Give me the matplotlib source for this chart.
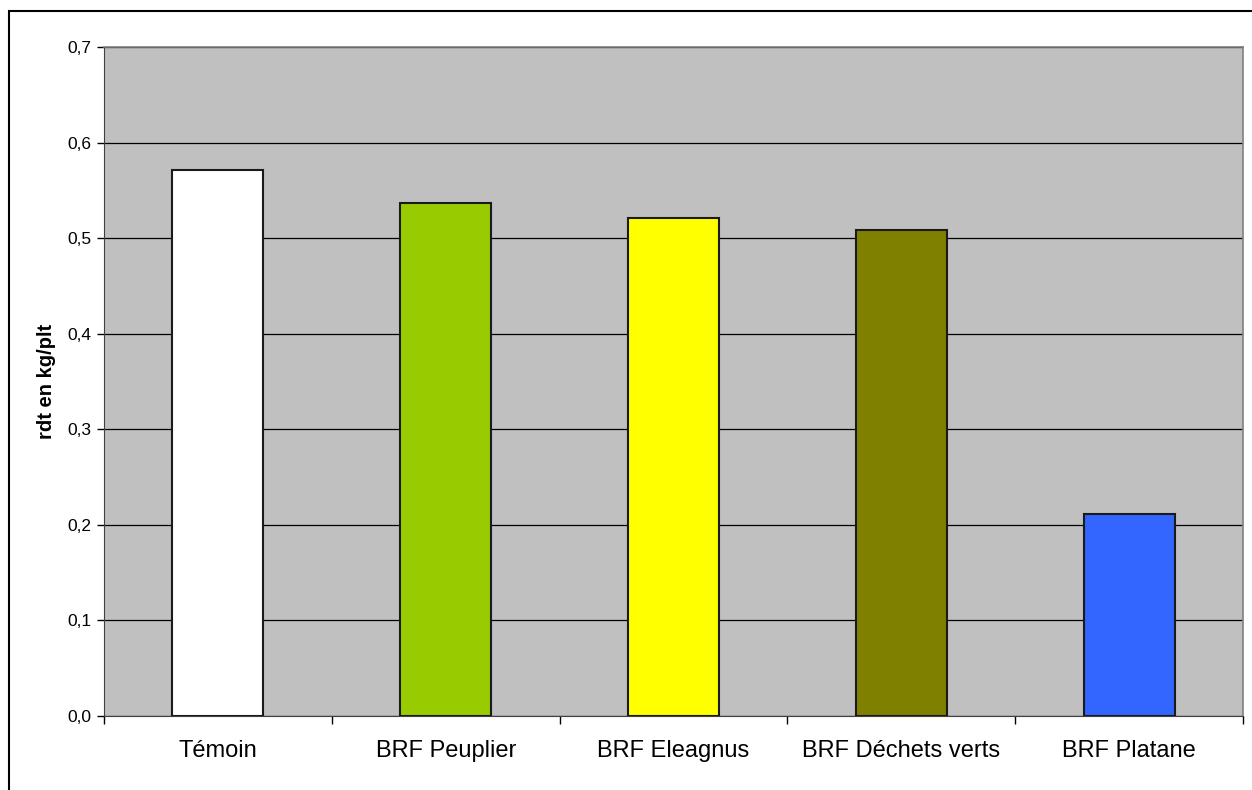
import numpy as np
import matplotlib.pyplot as plt
from matplotlib.patches import Rectangle
from matplotlib.ticker import FuncFormatter

plt.rcParams['font.family'] = ['Liberation Sans', 'DejaVu Sans']

# Rendement par traitement
traitements = ['Témoin', 'BRF Peuplier', 'BRF Eleagnus', 'BRF Déchets verts', 'BRF Platane']
rendements = [0.571, 0.537, 0.521, 0.508, 0.211]
couleurs = ['#FFFFFF', '#99CC00', '#FFFF00', '#808000', '#3366FF']

fig = plt.figure(figsize=(12.52, 7.9), dpi=100)
ax = fig.add_axes([104 / 1252, 74 / 790, 1139 / 1252, 669 / 790])

# Cadre autour du graphique (coupé à droite et en bas)
fig.patches.append(Rectangle((9 / 1252, -20 / 790), 1300 / 1252, 799 / 790,
                             transform=fig.transFigure, fill=False,
                             edgecolor='black', linewidth=1.5))

ax.set_facecolor('#C0C0C0')
x = np.arange(len(traitements))
ax.bar(x, rendements, width=0.4, color=couleurs, edgecolor='#1a1a1a',
       linewidth=1.5, zorder=3)

ax.set_xlim(-0.5, len(traitements) - 0.5)
ax.set_ylim(0, 0.7)
ax.set_yticks(np.arange(0, 0.71, 0.1))
ax.yaxis.set_major_formatter(FuncFormatter(lambda v, p: f'{v:.1f}'.replace('.', ',')))
ax.grid(axis='y', color='black', linewidth=0.9, zorder=1)

# Graduations entre les catégories
ax.set_xticks(np.arange(-0.5, len(traitements), 1.0))
ax.set_xticklabels([])
ax.set_xticks(x, minor=True)
ax.set_xticklabels(traitements, minor=True, fontsize=17)
ax.tick_params(axis='x', which='minor', length=0, pad=17)
ax.tick_params(axis='x', which='major', length=6, width=1, direction='out')
ax.tick_params(axis='y', length=5, width=1, labelsize=12.5, pad=4)

for s in ['top', 'right']:
    ax.spines[s].set_color('#808080')
    ax.spines[s].set_linewidth(1.2)
ax.spines['left'].set_color('#404040')
ax.spines['bottom'].set_color('#404040')

ax.set_ylabel('rdt en kg/plt', fontsize=14.5, fontweight='bold', labelpad=8)

fig.savefig('out.png', dpi=100)
